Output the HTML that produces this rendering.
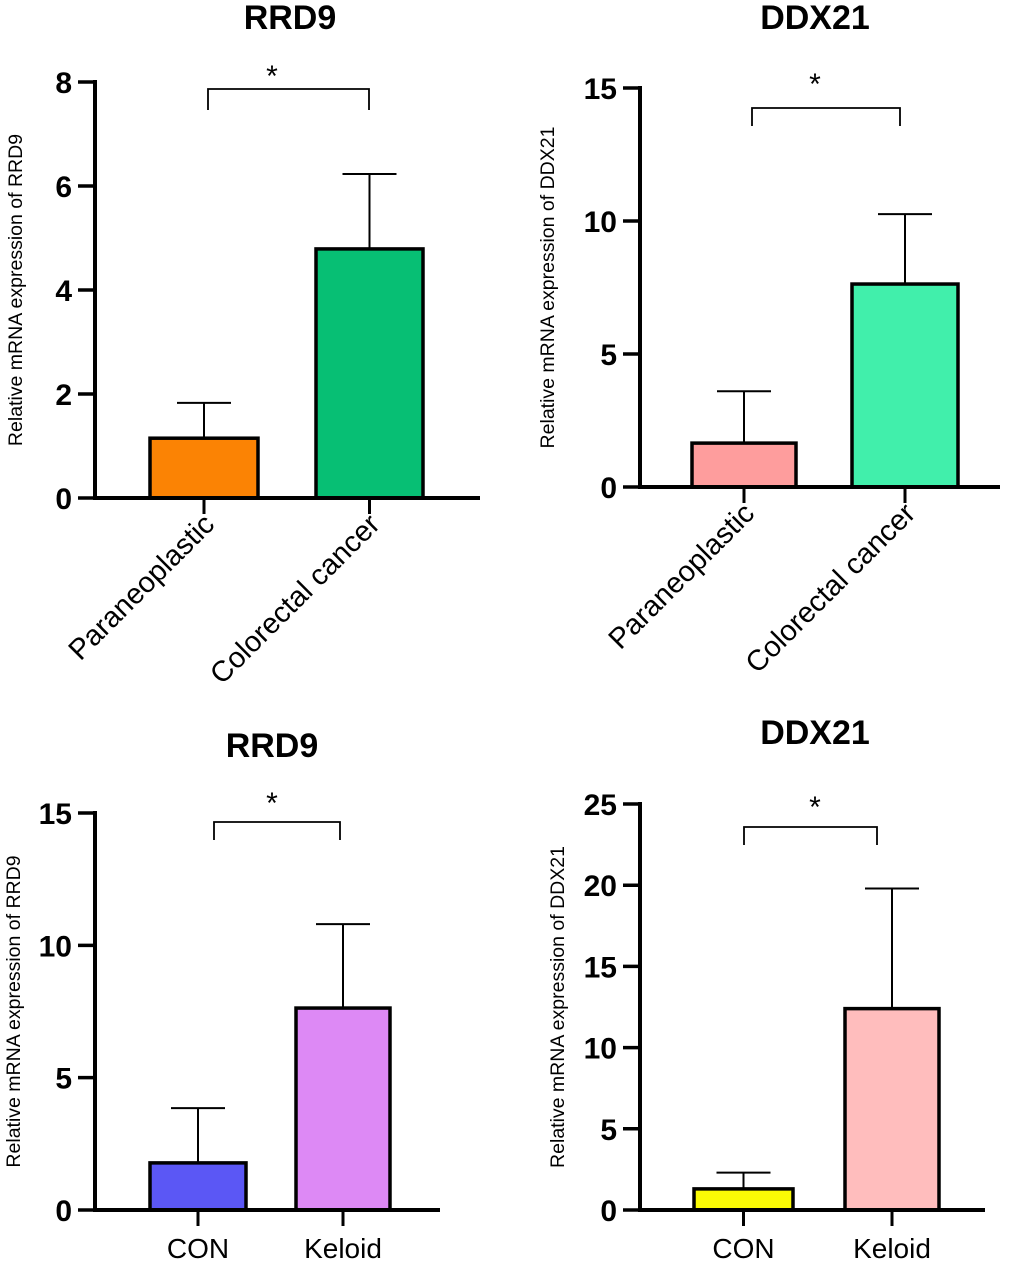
<!DOCTYPE html>
<html><head><meta charset="utf-8"><style>
body{margin:0;background:#fff}
svg{display:block;font-family:"Liberation Sans",Arial,sans-serif}
</style></head><body>
<svg id="c" width="1020" height="1262" viewBox="0 0 1020 1262"></svg>
<script>
const titles=["RRD9","DDX21","RRD9","DDX21"];
const yTitles=["Relative mRNA expression of RRD9","Relative mRNA expression of DDX21","Relative mRNA expression of RRD9","Relative mRNA expression of DDX21"];
const catsTop=["Paraneoplastic","Colorectal cancer"];
const catsBottom=["CON","Keloid"];
const meansA=[1.15,4.79], errsA=[1.83,6.23];
const meansB=[1.65,7.63], errsB=[3.6,10.26];
const meansC=[1.78,7.63], errsC=[3.85,10.8];
const meansD=[1.3,12.4], errsD=[2.3,19.8];
const ticksA=[0,2,4,6,8], ticksB=[0,5,10,15], ticksC=[0,5,10,15], ticksD=[0,5,10,15,20,25];
const colorsA=["#fb8304","#07bf74"], colorsB=["#fe9d9d","#41efab"], colorsC=["#5b57f5","#dd89f5"], colorsD=["#fafa05","#ffbdbd"];
const NS="http://www.w3.org/2000/svg";
const svg=document.getElementById('c');
function mk(t,a,p){const e=document.createElementNS(NS,t);for(const k in a)e.setAttribute(k,a[k]);(p||svg).appendChild(e);return e;}
const panels=[
 {ax:95,y0:498,ymax:8,y1:82,xEnd:480,bars:[[150,258],[316,423]],m:meansA,e:errsA,t:ticksA,c:colorsA,cats:catsTop,rot:true,title:[290,20],yt:15,br:[208,369,89,110],star:[272,86]},
 {ax:640,y0:487,ymax:15,y1:88,xEnd:1000,bars:[[692,796],[852,958]],m:meansB,e:errsB,t:ticksB,c:colorsB,cats:catsTop,rot:true,title:[815,20],yt:547,br:[752,900,108,126],star:[815,94]},
 {ax:95,y0:1210,ymax:15,y1:813,xEnd:440,bars:[[150,246],[296,390]],m:meansC,e:errsC,t:ticksC,c:colorsC,cats:catsBottom,rot:false,title:[272,748],yt:13,br:[214,340,822,840],star:[272,813]},
 {ax:640,y0:1210,ymax:25,y1:804,xEnd:985,bars:[[694,793],[845,939]],m:meansD,e:errsD,t:ticksD,c:colorsD,cats:catsBottom,rot:false,title:[815,735],yt:557,br:[744,877,827,845],star:[815,817]}
];
panels.forEach((P,i)=>{
 const g=mk('g',{});
 
 
 const y=v=>P.y0-(P.y0-P.y1)*v/P.ymax;
 const tt=mk('text',{x:P.title[0],y:P.title[1],'text-anchor':'middle','font-size':34,'font-weight':'bold','dominant-baseline':'middle'},g);tt.textContent=titles[i];
 
 const ytl=mk('text',{x:0,y:0,transform:`translate(${P.yt+7},${(P.y0+P.y1)/2}) rotate(-90)`,'text-anchor':'middle','font-size':19.5},g);ytl.textContent=yTitles[i];
 
 P.bars.forEach((b,j)=>{
  const cx=(b[0]+b[1])/2;
  const el=mk('line',{x1:cx,x2:cx,y1:y(P.m[j]),y2:y(P.e[j]),stroke:'#000','stroke-width':2},g);
  
  const cap=mk('line',{x1:cx-27,x2:cx+27,y1:y(P.e[j]),y2:y(P.e[j]),stroke:'#000','stroke-width':2},g);
  
  const r=mk('rect',{x:b[0],y:y(P.m[j]),width:b[1]-b[0],height:P.y0-y(P.m[j]),fill:P.c[j],stroke:'#000','stroke-width':3.5},g);
  
  mk('line',{x1:cx,x2:cx,y1:P.y0,y2:P.y0+16,stroke:'#000','stroke-width':3},g);
  let lt;
  if(P.rot){lt=mk('text',{x:0,y:0,transform:`translate(${cx+12},${P.y0+28}) rotate(-45)`,'text-anchor':'end','font-size':29},g);}
  else{lt=mk('text',{x:cx,y:P.y0+48,'text-anchor':'middle','font-size':28},g);}
  lt.textContent=P.cats[j];
  
 });
 P.t.forEach(v=>{
  mk('line',{x1:P.ax-17,x2:P.ax,y1:y(v),y2:y(v),stroke:'#000','stroke-width':3.5},g);
  const t=mk('text',{x:P.ax-23,y:y(v)+11,'text-anchor':'end','font-size':30,'font-weight':'bold'},g);t.textContent=v;
  
 });
 const yl=mk('line',{x1:P.ax,x2:P.ax,y1:P.y1-2,y2:P.y0+2,stroke:'#000','stroke-width':4},g);
 
 const xl=mk('line',{x1:P.ax-2,x2:P.xEnd,y1:P.y0,y2:P.y0,stroke:'#000','stroke-width':4},g);
 
 const br=mk('path',{d:`M${P.br[0]},${P.br[3]}V${P.br[2]}H${P.br[1]}V${P.br[3]}`,fill:'none',stroke:'#000','stroke-width':1.8},g);
 
 const st=mk('text',{x:P.star[0],y:P.star[1],'text-anchor':'middle','font-size':30},g);st.textContent='*';
 
});
</script>
</body></html>
